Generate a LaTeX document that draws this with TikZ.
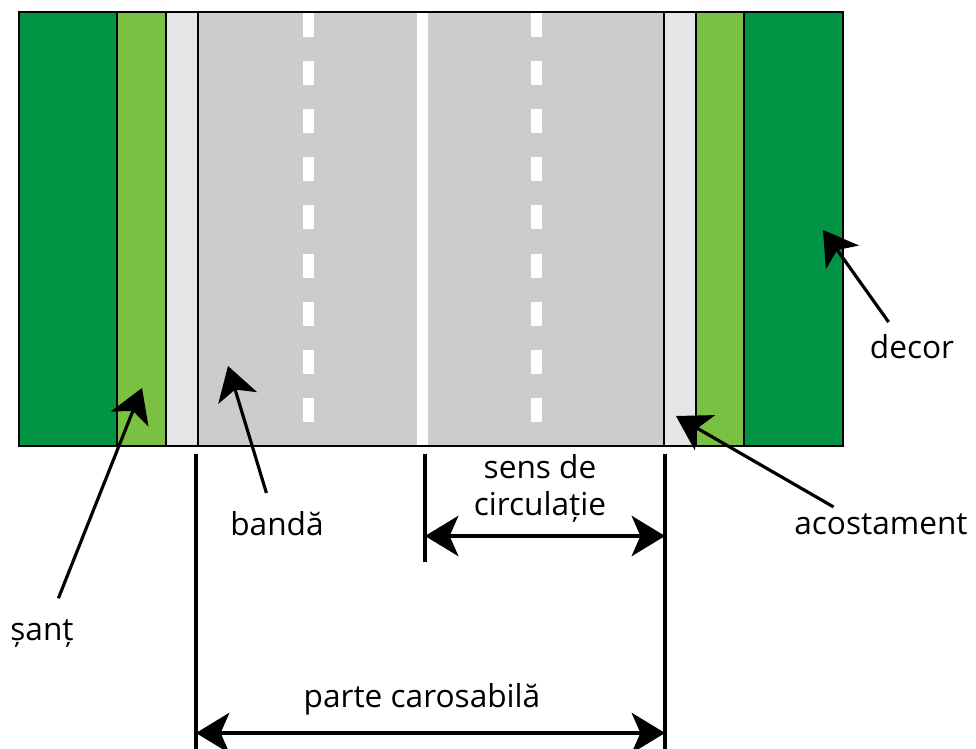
\documentclass[tikz,border=0pt]{standalone}
\usepackage{fontspec}
\setmainfont{Open Sans}
\usetikzlibrary{arrows.meta}
\definecolor{verdeinchis}{RGB}{0,148,68}
\definecolor{verdedeschis}{RGB}{122,193,67}
\definecolor{gri}{RGB}{204,204,204}
\definecolor{gridesc}{RGB}{230,230,230}
\tikzset{
  varf/.tip={Stealth[length=19pt, width=23pt, inset=5pt]},
  eticheta/.style={font=\fontsize{18}{20.5}\selectfont, anchor=base, align=center},
  cota/.style={line width=1.8pt},
  indicator/.style={line width=1.8pt, -varf}
}
\begin{document}
\begin{tikzpicture}[x=0.02cm, y=-0.02cm]
    \useasboundingbox (0,0) rectangle (976,749);

    % Benzile drumului
    \foreach \a/\b/\c in {19/117/verdeinchis, 117/166/verdedeschis, 166/198/gridesc,
                         198/664/gri, 664/696/gridesc, 696/744/verdedeschis, 744/843/verdeinchis}
        \fill[\c] (\a,12) rectangle (\b,446);

    % Marcaje
    \fill[white] (417,12) rectangle (428,446);
    \foreach \i in {0,...,8} {
        \fill[white] (303,12.7+48.2*\i) rectangle ++(11,24);
        \fill[white] (531,12.7+48.2*\i) rectangle ++(11,24);
    }

    % Contururi
    \foreach \a/\b in {19/117, 117/166, 166/198, 198/664, 664/696, 696/744, 744/843}
        \draw[line width=0.6pt] (\a,12) rectangle (\b,446);

    % Cote
    \draw[cota] (196,454) -- (196,749);
    \draw[cota] (665,454) -- (665,749);
    \draw[cota] (425,454) -- (425,562);
    \draw[cota, varf-varf] (425,536) -- (665,536);
    \draw[cota, varf-varf] (196,733) -- (665,733);

    % Etichete
    \node[eticheta] (sens) at (540,515) {sens de\\circulație};
    \node[eticheta] (parte) at (422,707) {parte carosabilă};
    \node[eticheta] (banda) at (277,535) {bandă};
    \node[eticheta] (sant) at (42,640) {șanț};
    \node[eticheta] (acost) at (881,534) {acostament};
    \node[eticheta] (decor) at (912,358) {decor};

    % Sageti
    \coordinate (santvarf) at (142,388);
    \coordinate (bandavarf) at (228,366);
    \coordinate (acostvarf) at (676,416);
    \coordinate (decorvarf) at (823,230);
    \draw[indicator, shorten <=9pt] ([xshift=6pt]sant.north) -- (santvarf);
    \draw[indicator, shorten <=7pt] ([xshift=-4pt]banda.north) -- (bandavarf);
    \draw[indicator] ([xshift=-27pt]acost.north) -- (acostvarf);
    \draw[indicator, shorten <=4pt] ([xshift=-11pt]decor.north) -- (decorvarf);
\end{tikzpicture}
\end{document}
